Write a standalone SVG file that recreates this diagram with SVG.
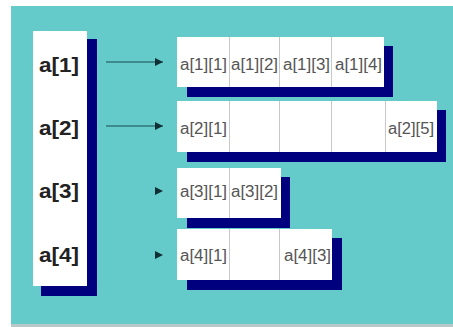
<svg xmlns="http://www.w3.org/2000/svg" width="453" height="327" viewBox="0 0 453 327">
  <defs>
    <style>
      .bg { fill: #65CACA; }
      .shadow { fill: #00007F; }
      .box { fill: #FFFFFF; }
      .div { stroke: #C8C8C8; stroke-width: 1; }
      .lbl { font-family: "Liberation Sans", Arial, sans-serif; font-weight: bold; font-size: 21px; fill: #222222; }
      .cell { font-family: "Liberation Sans", Arial, sans-serif; font-size: 16px; fill: #555555; }
      .conn { stroke: #1A4A4A; stroke-width: 1; fill: none; }
      .head { fill: #0F2F35; }
    </style>
    <marker id="arr" markerWidth="8" markerHeight="8" refX="8" refY="4" orient="auto" markerUnits="userSpaceOnUse">
      <path d="M0,0 L8,4 L0,8 Z" class="head"/>
    </marker>
  </defs>
  <rect x="0" y="0" width="453" height="327" fill="#FFFFFF"/>
  <rect class="bg" x="11" y="6" width="442" height="318"/>
  <rect x="11" y="324" width="442" height="3" fill="#B8C8C8"/>

  <g id="index">
    <rect class="shadow" x="41" y="39" width="56" height="257"/>
    <rect class="box" x="33" y="31" width="54" height="255"/>
    <text class="lbl" x="39" y="72" textLength="40" lengthAdjust="spacingAndGlyphs">a[1]</text>
    <text class="lbl" x="39" y="135" textLength="40" lengthAdjust="spacingAndGlyphs">a[2]</text>
    <text class="lbl" x="39" y="198" textLength="40" lengthAdjust="spacingAndGlyphs">a[3]</text>
    <text class="lbl" x="39" y="262" textLength="40" lengthAdjust="spacingAndGlyphs">a[4]</text>
  </g>

  <g id="connectors">
    <line class="conn" x1="106" y1="62" x2="163" y2="62" marker-end="url(#arr)"/>
    <line class="conn" x1="106" y1="126" x2="163" y2="126" marker-end="url(#arr)"/>
    <path class="head" d="M155,187 L163,191 L155,195 Z"/>
    <path class="head" d="M155,251 L163,255 L155,259 Z"/>
  </g>

  <g id="row1">
    <rect class="shadow" x="187" y="46" width="206" height="51"/>
    <rect class="box" x="177" y="37" width="207" height="50"/>
    <line class="div" x1="229.5" y1="37" x2="229.5" y2="87"/>
    <line class="div" x1="279.5" y1="37" x2="279.5" y2="87"/>
    <line class="div" x1="331.5" y1="37" x2="331.5" y2="87"/>
    <text class="cell" x="180" y="70" textLength="47" lengthAdjust="spacingAndGlyphs">a[1][1]</text>
    <text class="cell" x="231" y="70" textLength="47" lengthAdjust="spacingAndGlyphs">a[1][2]</text>
    <text class="cell" x="283" y="70" textLength="47" lengthAdjust="spacingAndGlyphs">a[1][3]</text>
    <text class="cell" x="335" y="70" textLength="47" lengthAdjust="spacingAndGlyphs">a[1][4]</text>
  </g>

  <g id="row2">
    <rect class="shadow" x="187" y="110" width="259" height="52"/>
    <rect class="box" x="177" y="101" width="260" height="51"/>
    <line class="div" x1="229.5" y1="101" x2="229.5" y2="152"/>
    <line class="div" x1="279.5" y1="101" x2="279.5" y2="152"/>
    <line class="div" x1="331.5" y1="101" x2="331.5" y2="152"/>
    <line class="div" x1="385.5" y1="101" x2="385.5" y2="152"/>
    <text class="cell" x="180" y="134" textLength="47" lengthAdjust="spacingAndGlyphs">a[2][1]</text>
    <text class="cell" x="388" y="134" textLength="46" lengthAdjust="spacingAndGlyphs">a[2][5]</text>
  </g>

  <g id="row3">
    <rect class="shadow" x="187" y="177" width="103" height="51"/>
    <rect class="box" x="177" y="168" width="104" height="50"/>
    <line class="div" x1="229.5" y1="168" x2="229.5" y2="218"/>
    <text class="cell" x="180" y="197" textLength="47" lengthAdjust="spacingAndGlyphs">a[3][1]</text>
    <text class="cell" x="231" y="197" textLength="47" lengthAdjust="spacingAndGlyphs">a[3][2]</text>
  </g>

  <g id="row4">
    <rect class="shadow" x="187" y="238" width="155" height="52"/>
    <rect class="box" x="177" y="229" width="155" height="51"/>
    <line class="div" x1="229.5" y1="229" x2="229.5" y2="280"/>
    <line class="div" x1="279.5" y1="229" x2="279.5" y2="280"/>
    <text class="cell" x="180" y="261" textLength="47" lengthAdjust="spacingAndGlyphs">a[4][1]</text>
    <text class="cell" x="284" y="261" textLength="47" lengthAdjust="spacingAndGlyphs">a[4][3]</text>
  </g>
</svg>
